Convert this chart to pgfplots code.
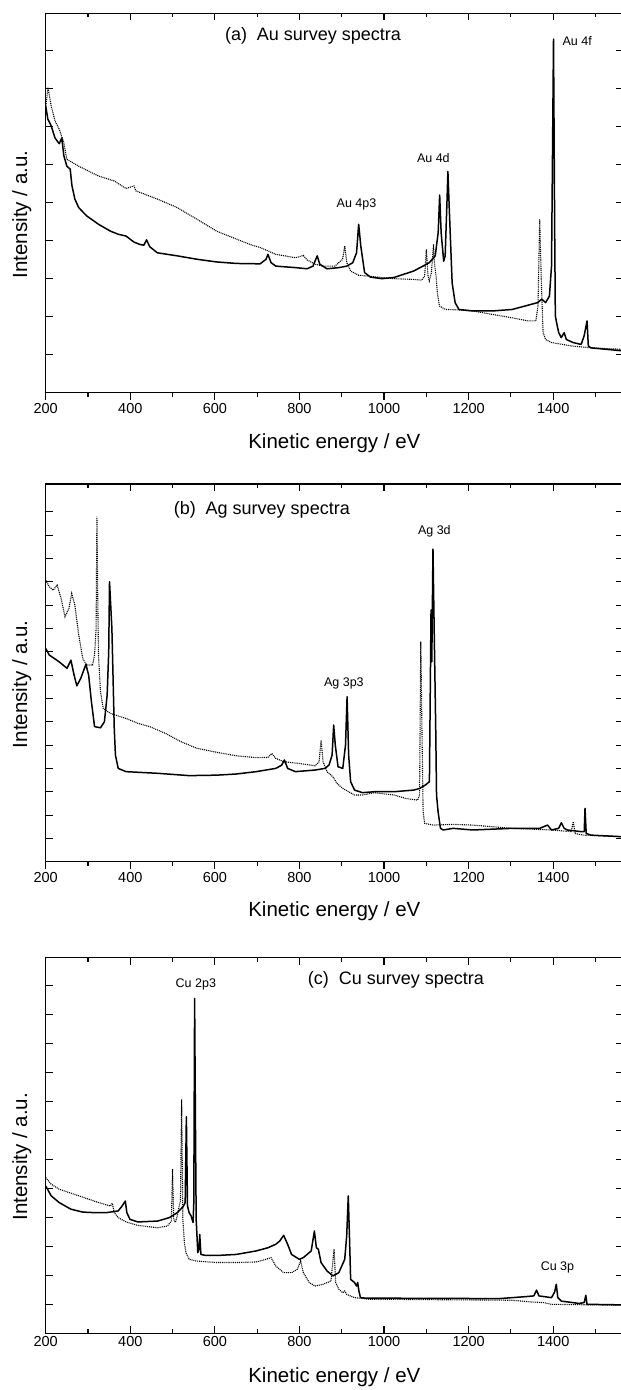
\documentclass[border=0pt]{standalone}
\usepackage{fontspec}
\setmainfont{Liberation Sans}
\usepackage{pgfplots}
\pgfplotsset{compat=1.18}

\tikzset{
  peak/.style={font=\fontsize{12.5}{14}\selectfont, inner sep=0pt},
  ttl/.style={font=\fontsize{18}{20}\selectfont, inner sep=0pt},
  sol/.style={black, line width=1.5pt, line join=round},
  dot/.style={black, line width=1.1pt, dash pattern=on 1pt off 0.9pt},
}
\pgfplotsset{
  survey/.style={
    scale only axis, width=577.3pt,
    xmin=200, xmax=1565,
    xtick={200,400,...,1400},
    minor xtick={300,500,...,1500},
    yticklabels={},
    ytick pos=both, ytick align=inside,
    major tick length=7pt, minor tick length=4pt,
    every tick/.style={black, line width=1.1pt},
    axis line style={line width=1.2pt},
    ticklabel style={font=\fontsize{14.5}{17}\selectfont},
    /pgf/number format/assume math mode=true,
    /pgf/number format/1000 sep={},
    label style={font=\fontsize{20.5}{24}\selectfont},
    ylabel={Intensity / a.u.},
    xlabel={Kinetic energy / eV},
    ylabel style={at={(axis description cs:-0.0415,0.47)}, anchor=center},
  },
  topticks/.style={
    survey, hide y axis, xtick pos=top, xtick align=inside, xticklabels={}, xlabel={}, ylabel={},
  },
}

\begin{document}
\begin{tikzpicture}
\useasboundingbox (0,0) rectangle (621pt,-1390pt);

% ---------------- (a) ----------------
\begin{axis}[survey, at={(45.7pt,-392.7pt)}, anchor=south west, height=379.4pt,
  ymin=0, ymax=9.98, ytick={1,...,9},
  xtick pos=bottom, xtick align=outside,
  xlabel style={at={(axis description cs:0.5,0)}, anchor=base, yshift=-55.5pt}]
\addplot[dot] coordinates {
(200,7.50) (205.6,8.03) (209,7.80) (213,7.54) (222,7.15) (232,6.93) (242.8,6.58) (250,6.14) (278,5.96) (325,5.70) (362,5.57) (390,5.37) (408.7,5.44) (413,5.31) (464.5,5.09) (511,4.87) (558,4.56) (604,4.25) (651,4.04) (688,3.88) (707,3.82) (744,3.64) (791,3.55) (809,3.61) (818.5,3.49) (837,3.38) (856,3.33) (884,3.33) (902,3.51) (907,3.86) (912,3.42) (921,3.20) (940,3.09) (977,3.05) (1023,3.00) (1070,2.98) (1089,2.96) (1096,3.07) (1100,3.77) (1104,3.07) (1107,2.94) (1112,3.16) (1117,3.90) (1119,3.42) (1123,3.07) (1126,2.63) (1131,2.28) (1145,2.19) (1172,2.18) (1210,2.15) (1256,2.06) (1303,1.97) (1340,1.89) (1359,1.89) (1364,2.28) (1368,4.56) (1372,2.89) (1376,1.58) (1382,1.40) (1396,1.32) (1443,1.23) (1489,1.18) (1565,1.14)
};
\addplot[sol] coordinates {
(200,7.54) (205,7.20) (213,7.02) (222,6.70) (232,6.55) (238,6.70) (243,6.23) (250,5.96) (258,5.88) (262,5.45) (269,5.09) (278,4.87) (297,4.65) (325,4.43) (353,4.25) (371,4.17) (390,4.12) (409,3.96) (423,3.90) (432,3.88) (438.5,4.02) (446,3.84) (464,3.68) (511,3.60) (558,3.51) (604,3.44) (651,3.40) (707,3.39) (721,3.51) (725.4,3.64) (733,3.42) (744,3.33) (791,3.29) (818,3.26) (832,3.33) (842,3.60) (848,3.38) (865,3.26) (893,3.29) (912,3.33) (926,3.42) (935,3.68) (940,4.43) (945,3.86) (954,3.16) (968,3.04) (995,3.00) (1023,3.03) (1070,3.20) (1107,3.42) (1121,3.60) (1128,4.21) (1131.5,5.20) (1135,4.21) (1141,3.46) (1144.5,3.60) (1149,5.09) (1151,5.82) (1154,4.91) (1161,2.89) (1168,2.37) (1177,2.19) (1210,2.15) (1256,2.15) (1303,2.19) (1340,2.30) (1363,2.37) (1373,2.46) (1382,2.37) (1391,2.54) (1396,3.33) (1400.7,9.30) (1403.5,4.21) (1405,2.02) (1408,1.84) (1413,1.58) (1419,1.45) (1426,1.58) (1431,1.40) (1447,1.32) (1466,1.27) (1473,1.49) (1480,1.89) (1483,1.23) (1489,1.18) (1565,1.10)
};
\node[ttl] at (axis cs:832,9.39) {(a)\hspace{0.55em}Au survey spectra};
\node[peak] at (axis cs:1456.6,9.25) {Au 4f};
\node[peak] at (axis cs:1116.6,6.17) {Au 4d};
\node[peak] at (axis cs:935,4.96) {Au 4p3};
\end{axis}
\begin{axis}[topticks, at={(45.7pt,-392.7pt)}, anchor=south west, height=379.4pt, ymin=0, ymax=9.98]
\end{axis}

% ---------------- (b) ----------------
\begin{axis}[survey, at={(45.7pt,-861.7pt)}, anchor=south west, height=377.7pt,
  ymin=0, ymax=16.19, ytick={1,...,15},
  xtick pos=bottom, xtick align=outside,
  xlabel style={at={(axis description cs:0.5,0)}, anchor=base, yshift=-55pt}]
\addplot[dot] coordinates {
(200,12.07) (208.4,11.79) (217.7,11.64) (227,11.86) (236.3,11.29) (245.6,10.5) (255,10.86) (261.5,11.5) (268.9,11.0) (278.2,9.71) (287.6,8.71) (296.9,8.43) (310.8,8.43) (315.5,8.86) (319.2,10.0) (321.1,14.79) (323,11.43) (324.8,8.86) (329.5,7.29) (336,6.57) (352.8,6.36) (390,6.14) (418,5.93) (445.9,5.79) (483.2,5.50) (520.4,5.14) (557.7,4.86) (604.3,4.69) (650.8,4.54) (697.4,4.46) (725.4,4.47) (734.7,4.64) (744,4.43) (762.6,4.29) (799.9,4.21) (837.2,4.11) (846.5,4.29) (851.1,5.21) (855.8,4.29) (865.1,3.86) (879.1,3.64) (888.4,3.36) (902.4,3.14) (930.3,2.86) (948.9,2.86) (976.9,2.96) (1023.4,2.86) (1051.4,2.71) (1079.3,2.64) (1084,2.86) (1086.8,9.43) (1089.6,5.71) (1092.4,2.14) (1096.1,1.64) (1116.6,1.57) (1163.2,1.60) (1209.7,1.57) (1302.9,1.43) (1396,1.36) (1442.6,1.29) (1447.3,1.71) (1452,1.21) (1470.6,1.14) (1565,1.07)
};
\addplot[sol] coordinates {
(200,9.14) (208.4,8.86) (231.7,8.57) (250.3,8.29) (259.6,8.64) (267.1,8.00) (273.6,7.54) (282.9,7.86) (295,8.46) (301.5,8.00) (308.1,6.86) (315.5,5.79) (329.5,5.74) (338.8,6.00) (345.3,7.14) (349,9.00) (350.9,12.0) (353.7,11.0) (356.5,10.0) (359.3,7.86) (362.1,5.71) (364.9,4.57) (371.4,4.00) (390,3.86) (464.5,3.79) (539.1,3.69) (604.3,3.71) (650.8,3.76) (697.4,3.86) (744,4.00) (758,4.14) (764.5,4.36) (772,4.00) (790.6,3.86) (837.2,3.93) (860.4,4.00) (869.8,4.14) (877.2,4.57) (880.9,5.86) (884.7,5.00) (891.2,4.07) (902.4,4.00) (908.9,5.00) (912.6,7.07) (916.3,4.57) (921,3.43) (930.3,3.07) (948.9,2.96) (976.9,3.00) (1023.4,3.00) (1070,3.07) (1084,3.14) (1098,3.29) (1107.3,3.43) (1109.2,7.14) (1111.1,10.79) (1112.9,8.57) (1115.7,13.4) (1118.5,10.0) (1122.2,5.71) (1124.1,2.86) (1127.8,2.14) (1133.4,1.43) (1139.9,1.36) (1163.2,1.43) (1209.7,1.36) (1302.9,1.43) (1368.1,1.43) (1386.7,1.57) (1396,1.36) (1412.8,1.43) (1419.3,1.67) (1425.9,1.43) (1433.4,1.36) (1466,1.29) (1473.3,1.29) (1475.2,2.29) (1478,1.21) (1489.2,1.14) (1565,1.07)
};
\node[ttl] at (axis cs:711,15.07) {(b)\hspace{0.55em}Ag survey spectra};
\node[peak] at (axis cs:1119,14.17) {Ag 3d};
\node[peak] at (axis cs:905,7.64) {Ag 3p3};
\end{axis}
\begin{axis}[topticks, at={(45.7pt,-861.7pt)}, anchor=south west, height=377.7pt, ymin=0, ymax=16.19]
\end{axis}

% ---------------- (c) ----------------
\begin{axis}[survey, at={(45.7pt,-1333.3pt)}, anchor=south west, height=375.6pt,
  ymin=0, ymax=12.95, ytick={1,...,12},
  xtick pos=both, xtick align=inside,
  xlabel style={at={(axis description cs:0.5,0)}, anchor=base, yshift=-49pt}]
\addplot[dot] coordinates {
(200,5.37) (213,5.14) (231.7,4.97) (278.2,4.74) (324.8,4.51) (352.8,4.39) (357.4,4.48) (362.1,4.16) (371.4,3.99) (390,3.84) (418,3.72) (464.5,3.64) (487.8,3.70) (497.1,3.87) (499.9,5.66) (502.7,3.93) (506.5,3.82) (511.1,4.05) (515.8,4.39) (518.6,4.56) (521.4,8.07) (524.2,3.93) (527.9,3.13) (531.6,2.78) (539.1,2.55) (557.7,2.49) (604.3,2.44) (650.8,2.44) (697.4,2.46) (720.7,2.55) (732.8,2.61) (744,2.32) (762.6,2.09) (781.3,2.09) (795.2,2.21) (802.7,2.49) (809.2,2.09) (823.2,1.75) (837.2,1.63) (855.8,1.69) (874.4,1.80) (881.9,2.90) (885.6,1.75) (893,1.52) (902.4,1.40) (907,1.46) (911.7,1.34) (930.3,1.23) (967.6,1.17) (1023.4,1.17) (1209.7,1.15) (1302.9,1.14) (1349.4,1.08) (1377.3,1.06) (1396,1.00) (1442.6,0.99) (1565,0.97)
};
\addplot[sol] coordinates {
(200,5.08) (213,4.74) (231.7,4.51) (259.6,4.28) (287.6,4.18) (315.5,4.16) (343.5,4.16) (371.4,4.22) (380.7,4.39) (388.2,4.56) (391.9,4.16) (399.3,3.93) (418,3.84) (464.5,3.87) (492.5,3.99) (511.1,4.16) (525.1,4.37) (529.8,4.51) (532.6,7.47) (535.3,4.39) (539.1,4.16) (543.7,4.05) (548.4,3.82) (550.2,4.51) (552.1,11.54) (554,7.38) (555.8,3.93) (559.6,2.78) (562.4,2.90) (564.2,3.41) (567,2.72) (576.3,2.69) (613.6,2.69) (650.8,2.72) (697.4,2.84) (725.4,2.95) (744,3.07) (753.3,3.18) (762.6,3.38) (772,3.07) (781.3,2.72) (799.9,2.55) (809.2,2.61) (827.8,2.84) (835.3,3.53) (840,2.95) (844.6,2.90) (851.1,2.44) (865.1,2.15) (879.1,1.98) (893,2.09) (907,2.55) (911.7,3.36) (915.4,4.74) (918.2,3.36) (921,1.86) (930.3,1.75) (935,1.63) (937.7,1.75) (940.5,1.46) (944.3,1.23) (958.2,1.21) (1023.4,1.21) (1209.7,1.20) (1275,1.20) (1330.9,1.26) (1354.1,1.29) (1360.6,1.49) (1366.2,1.29) (1396,1.23) (1403.5,1.43) (1407.2,1.69) (1410.9,1.23) (1419.3,1.11) (1461.3,1.03) (1473.3,1.06) (1477.1,1.31) (1479.9,1.00) (1565,0.98)
};
\node[ttl] at (axis cs:1028,12.2) {(c)\hspace{0.55em}Cu survey spectra};
\node[peak] at (axis cs:555,12.03) {Cu 2p3};
\node[peak] at (axis cs:1410,2.26) {Cu 3p};
\end{axis}

\end{tikzpicture}
\end{document}
